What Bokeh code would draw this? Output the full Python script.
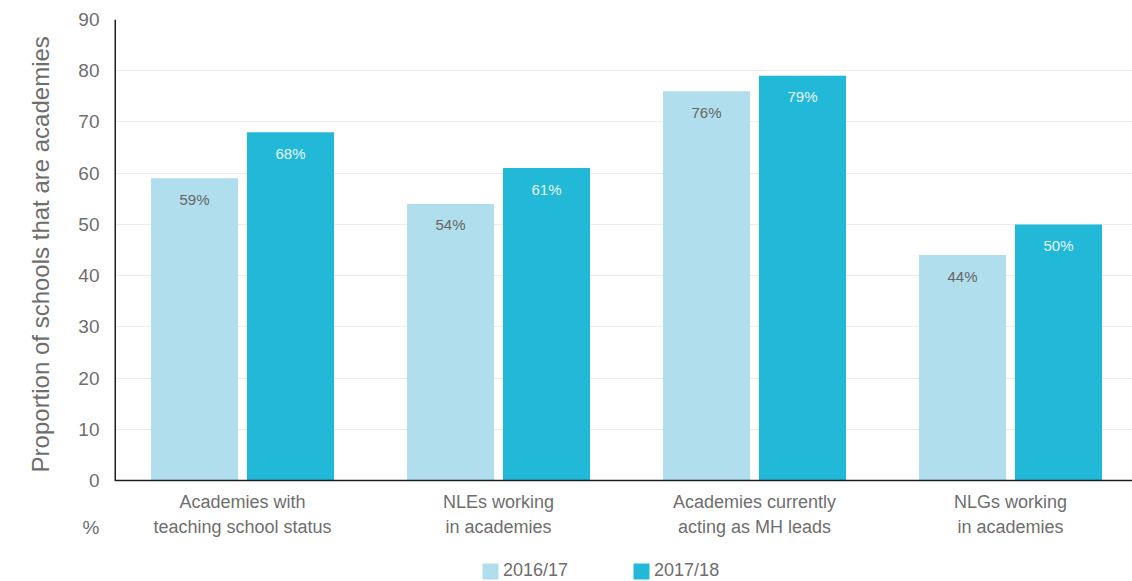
from bokeh.plotting import figure
from bokeh.models import ColumnDataSource, Range1d, FixedTicker, Legend, LegendItem, Span, Title
from bokeh.transform import dodge
from bokeh.core.properties import value
from bokeh.embed import file_html
from bokeh.resources import INLINE

categories = ["Academies with\nteaching school status", "NLEs working\nin academies",
              "Academies currently\nacting as MH leads", "NLGs working\nin academies"]
series_names = ["2016/17", "2017/18"]
v2016 = [59, 54, 76, 44]
v2017 = [68, 61, 79, 50]
y_ticks = [0, 10, 20, 30, 40, 50, 60, 70, 80, 90]
unit_label = "%"
y_title = "Proportion of  schools that are academies"

FONT = "Liberation Sans"
LIGHT = "#b1deec"
DARK = "#22b8d8"
GREY = "#6e6e6e"
AXIS = "#1e1e1e"

xs = list(range(len(categories)))
src = ColumnDataSource(dict(
    x=xs, v1=v2016, v2=v2017, base=[0] * len(xs), cat=categories,
    l1=[f"{v}%" for v in v2016], l2=[f"{v}%" for v in v2017],
))

X0, X1 = -0.5, -0.5 + 1018 / 256
Y0, Y1 = -(101 / (461 / 90)), 90
UNIT_Y = -9.2

p = figure(frame_width=1018, frame_height=562, output_backend="svg", toolbar_location=None,
           x_range=Range1d(X0, X1), y_range=Range1d(Y0, Y1),
           min_border_left=114, min_border_right=0, min_border_top=19, min_border_bottom=0)
p.outline_line_color = None
p.background_fill_color = "white"
p.xaxis.visible = False
p.xgrid.grid_line_color = None

# y axis (line drawn separately so that it stops at 0)
p.yaxis.ticker = FixedTicker(ticks=y_ticks + [UNIT_Y])
p.yaxis.major_label_overrides = {UNIT_Y: unit_label}
p.yaxis.major_tick_line_color = None
p.yaxis.minor_tick_line_color = None
p.yaxis.major_tick_out = 0
p.yaxis.axis_line_color = None
p.yaxis.major_label_text_font = FONT
p.yaxis.major_label_text_font_size = "19px"
p.yaxis.major_label_text_color = GREY
p.yaxis.major_label_standoff = 15
p.ygrid.ticker = FixedTicker(ticks=y_ticks)
p.ygrid.grid_line_color = "#ebebeb"

p.add_layout(Title(text=y_title, align="right", offset=10, text_font=FONT,
                   text_font_size="24px", text_font_style="normal", text_color=GREY,
                   standoff=44), "left")

r1 = p.vbar(x=dodge("x", -0.1875), top="v1", width=0.34, source=src, color=LIGHT, line_color=None)
r2 = p.vbar(x=dodge("x", 0.1875), top="v2", width=0.34, source=src, color=DARK, line_color=None)

# axis lines
p.segment(x0=[X0], y0=[0], x1=[X0], y1=[Y1], line_color=AXIS, line_width=3)
p.add_layout(Span(location=0, dimension="width", line_color=AXIS, line_width=1.6))

# value labels
p.text(x=dodge("x", -0.1875), y="v1", text="l1", source=src, text_align="center",
       text_baseline="middle", y_offset=21, text_font_size="15px", text_color="#666666",
       text_font=value(FONT))
p.text(x=dodge("x", 0.1875), y="v2", text="l2", source=src, text_align="center",
       text_baseline="middle", y_offset=21, text_font_size="15px", text_color="#e8f7fb",
       text_font=value(FONT))

# category labels
p.text(x="x", y="base", text="cat", source=src, text_align="center", text_baseline="top",
       y_offset=11, text_font_size="18px", text_color=GREY, text_font=value(FONT),
       text_line_height=1.27)

legend = Legend(items=[LegendItem(label=series_names[0], renderers=[r1]),
                       LegendItem(label=series_names[1], renderers=[r2])],
                orientation="horizontal", location=(366, 0),
                glyph_width=20, glyph_height=20, label_standoff=3, spacing=63,
                label_text_font=FONT, label_text_font_size="18px", label_text_color=GREY,
                border_line_color=None, background_fill_alpha=0, padding=0, margin=0)
p.add_layout(legend)

open("out.html", "w").write(file_html(p, INLINE))
